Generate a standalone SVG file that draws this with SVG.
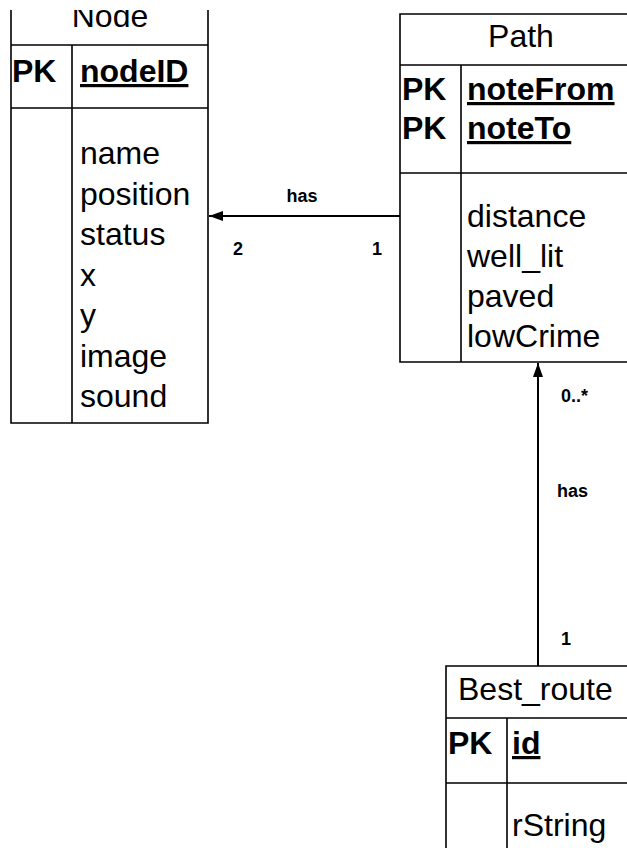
<svg xmlns="http://www.w3.org/2000/svg" width="627" height="848" viewBox="0 0 627 848">
<style>
  .ln{stroke:#000;stroke-width:1.6;fill:none}
  .t{font-family:"Liberation Sans",Arial,sans-serif;font-size:32px;fill:#000}
  .b{font-weight:bold}
  .u{text-decoration:underline}
  .lbl{font-family:"Liberation Sans",Arial,sans-serif;font-size:18px;font-weight:bold;fill:#000}
  .cn{stroke:#000;stroke-width:2;fill:none}
</style>
<defs>
  <marker id="arr" viewBox="0 0 14 10" refX="14" refY="5" markerWidth="14" markerHeight="10" markerUnits="userSpaceOnUse" orient="auto">
    <path d="M0,0 L14,5 L0,10 Z" fill="#000"/>
  </marker>
  <clipPath id="nodeClip"><rect x="0" y="10" width="220" height="40"/></clipPath>
</defs>
<rect x="0" y="0" width="627" height="848" fill="#fff"/>

<g id="node-Node">
  <path class="ln" d="M11,10 V423 H208 V10 M11,45 H208 M72,45 V423 M11,108 H208"/>
  <text class="t" x="110" y="27" text-anchor="middle" clip-path="url(#nodeClip)">Node</text>
  <text class="t b" x="12" y="82">PK</text>
  <text class="t b u" x="80" y="82">nodeID</text>
  <text class="t" x="80" y="164">name</text>
  <text class="t" x="80" y="204.5">position</text>
  <text class="t" x="80" y="245">status</text>
  <text class="t" x="80" y="285.5">x</text>
  <text class="t" x="80" y="326">y</text>
  <text class="t" x="80" y="366.5">image</text>
  <text class="t" x="80" y="407">sound</text>
</g>

<g id="node-Path">
  <path class="ln" d="M628,14 H400 V362 H628 M400,65 H628 M461,65 V362 M400,173 H628"/>
  <text class="t" x="521" y="47" text-anchor="middle">Path</text>
  <text class="t b" x="402" y="100">PK</text>
  <text class="t b u" x="467" y="100">noteFrom</text>
  <text class="t b" x="402" y="139">PK</text>
  <text class="t b u" x="467" y="139">noteTo</text>
  <text class="t" x="467" y="227">distance</text>
  <text class="t" x="467" y="267">well_lit</text>
  <text class="t" x="467" y="307">paved</text>
  <text class="t" x="467" y="347">lowCrime</text>
</g>

<g id="node-Best_route">
  <path class="ln" d="M628,666 H446 V849 M446,718 H628 M507,718 V849 M446,783 H628"/>
  <text class="t" x="458" y="700">Best_route</text>
  <text class="t b" x="448" y="754">PK</text>
  <text class="t b u" x="512" y="754">id</text>
  <text class="t" x="512" y="836">rString</text>
</g>

<g id="connectors">
  <line class="cn" x1="400" y1="216" x2="209" y2="216" marker-end="url(#arr)"/>
  <text class="lbl" x="302" y="202" text-anchor="middle">has</text>
  <text class="lbl" x="233" y="255">2</text>
  <text class="lbl" x="372" y="255">1</text>
  <line class="cn" x1="538" y1="666" x2="538" y2="363" marker-end="url(#arr)"/>
  <text class="lbl" x="561" y="402">0..*</text>
  <text class="lbl" x="557" y="497">has</text>
  <text class="lbl" x="561" y="645">1</text>
</g>
</svg>
